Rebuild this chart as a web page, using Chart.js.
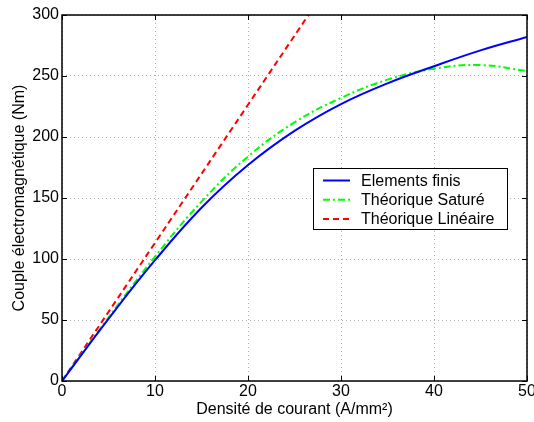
<!DOCTYPE html>
<html>
<head>
<meta charset="utf-8">
<script src="https://cdn.jsdelivr.net/npm/chart.js@4"></script>
<style>
  html, body { margin: 0; padding: 0; background: #fff; }
  #wrap { width: 534px; height: 422px; position: relative; }
</style>
</head>
<body>
<div id="wrap"><canvas id="couple"></canvas></div>
<script>
// current density (A/mm²)
const densite = [0, 5, 10, 15, 20, 25, 30, 35, 40, 45, 50];
// torque (Nm)
const elementsFinis = [0, 51, 99, 142, 177, 205, 227, 244, 258, 271, 282];
const theoriqueSature = [0, 52, 102, 147, 184, 212, 232, 247, 256, 259, 254];
const densiteLin = [0, 10, 20, 26.5];
const theoriqueLineaire = [0, 113.2, 226.4, 300];

const xTicks = [0, 10, 20, 30, 40, 50];
const yTicks = [0, 50, 100, 150, 200, 250, 300];

const FONT = "'Liberation Sans', Arial, sans-serif";

function pts(xs, ys) {
  return xs.map((x, i) => ({ x: x, y: ys[i] }));
}

// matlab-like box with inward ticks
const boxPlugin = {
  id: "box",
  afterDatasetsDraw(chart) {
    const { ctx, chartArea: a, scales } = chart;
    ctx.save();
    ctx.strokeStyle = "#000";
    ctx.lineWidth = 1;
    ctx.beginPath();
    xTicks.forEach((v) => {
      const px = Math.round(scales.x.getPixelForValue(v)) + 0.5;
      ctx.moveTo(px, a.bottom); ctx.lineTo(px, a.bottom - 5);
      ctx.moveTo(px, a.top); ctx.lineTo(px, a.top + 5);
    });
    yTicks.forEach((v) => {
      const py = Math.round(scales.y.getPixelForValue(v)) + 0.5;
      ctx.moveTo(a.left, py); ctx.lineTo(a.left + 5, py);
      ctx.moveTo(a.right, py); ctx.lineTo(a.right - 5, py);
    });
    ctx.stroke();
    ctx.lineWidth = 1.5;
    ctx.strokeRect(a.left, a.top, a.right - a.left, a.bottom - a.top);
    ctx.restore();
  },
};

// legend box drawn inside the axes
const legendPlugin = {
  id: "insideLegend",
  afterDraw(chart) {
    const { ctx, chartArea: a } = chart;
    const left = a.left + 251, top = a.top + 153, w = 194, h = 61;
    ctx.save();
    ctx.fillStyle = "#fff";
    ctx.fillRect(left, top, w, h);
    ctx.strokeStyle = "#000";
    ctx.lineWidth = 1;
    ctx.strokeRect(left + 0.5, top + 0.5, w, h);
    ctx.font = "16px " + FONT;
    ctx.textBaseline = "middle";
    chart.data.datasets.forEach((ds, i) => {
      const y = top + 12.5 + i * 19.2;
      ctx.strokeStyle = ds.borderColor;
      ctx.lineWidth = ds.borderWidth;
      ctx.setLineDash(ds.borderDash || []);
      ctx.beginPath();
      ctx.moveTo(left + 10, y);
      ctx.lineTo(left + 37, y);
      ctx.stroke();
      ctx.setLineDash([]);
      ctx.fillStyle = "#000";
      ctx.fillText(ds.label, left + 48, y + 1);
    });
    ctx.restore();
  },
};

new Chart(document.getElementById("couple"), {
  type: "line",
  data: {
    datasets: [
      {
        label: "Elements finis",
        data: pts(densite, elementsFinis),
        borderColor: "#0000ff",
        borderWidth: 2,
        borderDash: [],
      },
      {
        label: "Théorique Saturé",
        data: pts(densite, theoriqueSature),
        borderColor: "#00ff00",
        borderWidth: 2,
        borderDash: [7, 3, 2, 3],
      },
      {
        label: "Théorique Linéaire",
        data: pts(densiteLin, theoriqueLineaire),
        borderColor: "#ff0000",
        borderWidth: 2,
        borderDash: [6, 4],
      },
    ],
  },
  options: {
    responsive: true,
    maintainAspectRatio: false,
    animation: false,
    tension: 0.4,
    pointRadius: 0,
    layout: { padding: { top: 15, right: 7, left: 0, bottom: 0 } },
    plugins: {
      legend: { display: false },
      tooltip: { enabled: false },
    },
    scales: {
      x: {
        type: "linear",
        min: 0,
        max: 50,
        afterBuildTicks: (s) => { s.ticks = xTicks.map((v) => ({ value: v })); },
        afterFit: (s) => { s.height = 41; s.paddingLeft = 0; s.paddingRight = 0; },
        grid: { color: "#b0b0b0", drawTicks: false },
        border: { display: false, dash: [1, 3] },
        ticks: { color: "#000", padding: 1, maxRotation: 0, font: { family: FONT, size: 16 } },
        title: {
          display: true,
          text: "Densité de courant (A/mm²)",
          color: "#000",
          padding: { top: 0, bottom: 3 },
          font: { family: FONT, size: 16 },
        },
      },
      y: {
        min: 0,
        max: 300,
        afterBuildTicks: (s) => { s.ticks = yTicks.map((v) => ({ value: v })); },
        afterFit: (s) => { s.width = 62; s.paddingTop = 0; s.paddingBottom = 0; },
        grid: { color: "#b0b0b0", drawTicks: false },
        border: { display: false, dash: [1, 3] },
        ticks: { color: "#000", padding: 3, font: { family: FONT, size: 16 } },
        title: {
          display: true,
          text: "Couple électromagnétique (Nm)",
          color: "#000",
          padding: { top: 10, bottom: 0 },
          font: { family: FONT, size: 16 },
        },
      },
    },
  },
  plugins: [boxPlugin, legendPlugin],
});
</script>
</body>
</html>
